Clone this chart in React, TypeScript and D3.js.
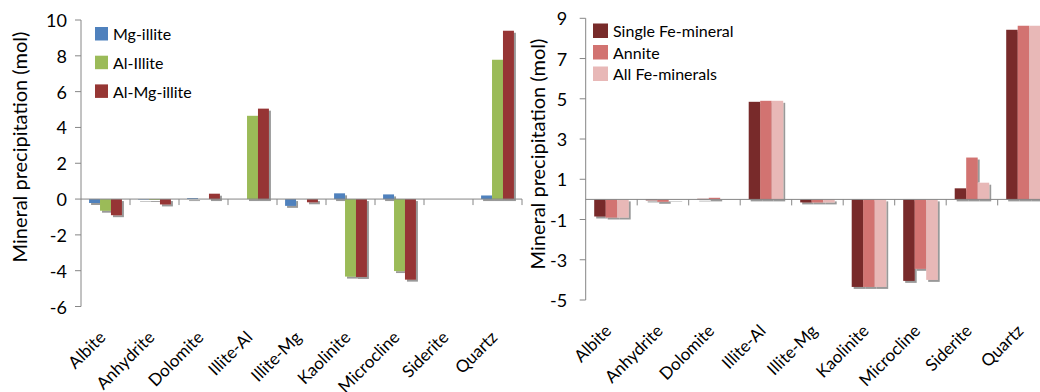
import React from "react";
import * as d3 from "d3";

const WIDTH = 1040;
const HEIGHT = 392;
const FONT = "Lato, 'Open Sans', sans-serif";

const minerals = [
  "Albite",
  "Anhydrite",
  "Dolomite",
  "Illite-Al",
  "Illite-Mg",
  "Kaolinite",
  "Microcline",
  "Siderite",
  "Quartz",
];

// left panel: illite types
const illiteSeries = ["Mg-illite", "Al-Illite", "Al-Mg-illite"];
const mgIllite = [-0.22, -0.03, 0.05, 0, -0.38, 0.32, 0.26, 0, 0.2];
const alIllite = [-0.65, -0.05, 0, 4.65, 0, -4.33, -4.02, 0, 7.78];
const alMgIllite = [-0.9, -0.3, 0.3, 5.05, -0.18, -4.35, -4.5, 0, 9.4];
const illiteColors = ["#4F81BD", "#9BBB59", "#963634"];
const leftTicks = [-6, -4, -2, 0, 2, 4, 6, 8, 10];

// right panel: Fe minerals
const feSeries = ["Single Fe-mineral", "Annite", "All Fe-minerals"];
const singleFe = [-0.85, -0.05, 0.03, 4.85, -0.15, -4.35, -4.05, 0.55, 8.43];
const annite = [-0.9, -0.12, 0.08, 4.9, -0.15, -4.35, -3.45, 2.08, 8.63];
const allFe = [-0.9, -0.02, 0, 4.9, -0.15, -4.35, -4.0, 0.83, 8.63];
const feColors = ["#782B2A", "#D27371", "#E8B8B7"];
const rightTicks = [-5, -3, -1, 1, 3, 5, 7, 9];

type PanelProps = {
  id: string;
  left: number;
  right: number;
  top: number;
  bottom: number;
  yDomain: [number, number];
  yTicks: number[];
  names: string[];
  values: number[][];
  colors: string[];
  tickLabelGap: number;
  titleX: number;
  titleY: number;
  legend: { x: number; y: number; step: number; sw: number; sh: number };
};

function Panel(p: PanelProps) {
  const x0 = d3.scaleBand().domain(minerals).range([p.left, p.right]);
  const bw = x0.bandwidth();
  const gw = bw * 0.67;
  const x1 = d3
    .scaleBand()
    .domain(p.names)
    .range([(bw - gw) / 2, (bw + gw) / 2]);
  const y = d3.scaleLinear().domain(p.yDomain).range([p.bottom, p.top]);
  const y0 = y(0);
  const axisColor = "#868686";

  return (
    <g>
      {/* bars */}
      <g filter={`url(#shadow-${p.id})`}>
        {p.names.map((name, si) =>
          minerals.map((m, i) => {
            const v = p.values[si][i];
            if (v === 0) return null;
            const yv = y(v);
            return (
              <rect
                key={name + m}
                x={(x0(m) as number) + (x1(name) as number)}
                y={Math.min(yv, y0)}
                width={x1.bandwidth()}
                height={Math.abs(yv - y0)}
                fill={p.colors[si]}
              />
            );
          })
        )}
      </g>

      {/* y axis */}
      <line x1={p.left} x2={p.left} y1={p.top} y2={p.bottom} stroke={axisColor} />
      {p.yTicks.map((t) => (
        <g key={t}>
          <line x1={p.left - 6} x2={p.left} y1={y(t)} y2={y(t)} stroke={axisColor} />
          <text
            x={p.left - p.tickLabelGap}
            y={y(t)}
            textAnchor="end"
            dominantBaseline="central"
            style={{ fontSize: 18, fill: "#000", fontFamily: FONT }}
          >
            {t}
          </text>
        </g>
      ))}

      {/* zero line + category ticks */}
      <line x1={p.left} x2={p.right} y1={y0} y2={y0} stroke={axisColor} />
      {minerals.map((m, i) =>
        i === 0 ? null : (
          <line key={m} x1={x0(m)} x2={x0(m)} y1={y0} y2={y0 + 6} stroke={axisColor} />
        )
      )}
      <line x1={p.right} x2={p.right} y1={y0} y2={y0 + 6} stroke={axisColor} />

      {/* category labels, rotated -45deg */}
      {minerals.map((m) => (
        <text
          key={m}
          transform={`translate(${(x0(m) as number) + bw / 2 + 1},${p.bottom + 32}) rotate(-45)`}
          textAnchor="end"
          style={{ fontSize: 17, fill: "#000", fontFamily: FONT }}
        >
          {m}
        </text>
      ))}

      {/* y title */}
      <text
        transform={`translate(${p.titleX},${p.titleY}) rotate(-90)`}
        textAnchor="middle"
        style={{ fontSize: 20, fill: "#000", fontFamily: FONT }}
      >
        Mineral precipitation (mol)
      </text>

      {/* legend */}
      {p.names.map((name, si) => {
        const ly = p.legend.y + si * p.legend.step;
        return (
          <g key={name}>
            <rect x={p.legend.x} y={ly} width={p.legend.sw} height={p.legend.sh} fill={p.colors[si]} />
            <text
              x={p.legend.x + p.legend.sw + 5}
              y={ly + p.legend.sh / 2}
              dominantBaseline="central"
              style={{ fontSize: 16, fill: "#000", fontFamily: FONT }}
            >
              {name}
            </text>
          </g>
        );
      })}
    </g>
  );
}

export default function App() {
  return (
    <div style={{ position: "absolute", left: 0, top: 0, background: "#fff" }}>
      <svg width={WIDTH} height={HEIGHT} style={{ display: "block" }}>
        <defs>
          {["left", "right"].map((id) => (
            <filter key={id} id={`shadow-${id}`} x="-20%" y="-20%" width="140%" height="140%">
              <feDropShadow dx="2" dy="2" stdDeviation="0.7" floodColor="#000" floodOpacity="0.4" />
            </filter>
          ))}
        </defs>
        <rect width={WIDTH} height={HEIGHT} fill="#fff" />
        <Panel
          id="left"
          left={81}
          right={522}
          top={20}
          bottom={306.5}
          yDomain={[-6, 10]}
          yTicks={leftTicks}
          names={illiteSeries}
          values={[mgIllite, alIllite, alMgIllite]}
          colors={illiteColors}
          tickLabelGap={14}
          titleX={27}
          titleY={147}
          legend={{ x: 95, y: 27, step: 28.7, sw: 13, sh: 13.5 }}
        />
        <Panel
          id="right"
          left={585.7}
          right={1049.2}
          top={18.3}
          bottom={300}
          yDomain={[-5, 9]}
          yTicks={rightTicks}
          names={feSeries}
          values={[singleFe, annite, allFe]}
          colors={feColors}
          tickLabelGap={18.5}
          titleX={545}
          titleY={154}
          legend={{ x: 593, y: 23.5, step: 21.5, sw: 15, sh: 14.5 }}
        />
      </svg>
    </div>
  );
}
